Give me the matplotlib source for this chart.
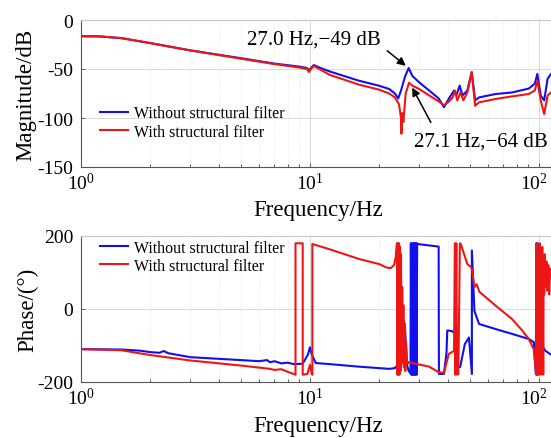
import matplotlib
matplotlib.use("Agg")
import matplotlib.pyplot as plt
from matplotlib.transforms import ScaledTranslation

plt.rcParams['font.family'] = ['Liberation Serif', 'DejaVu Serif']
plt.rcParams['mathtext.fontset'] = 'custom'
plt.rcParams['mathtext.rm'] = 'Liberation Serif'
plt.rcParams['mathtext.it'] = 'Liberation Serif:italic'

# --- Amplitude (dB) ---
mag_f_blue = [1.0, 1.2, 1.5, 2.0, 3.0, 5.0, 7.0, 9.0, 9.7, 9.9, 10.1, 10.4, 11.0, 12.2,
              16.4, 20.0, 22.2, 23.5, 24.3, 25.0, 26.0, 27.0, 28.0, 30.0, 33.2, 36.5,
              38.5, 40.5, 42.6, 43.6, 45.1, 46.4, 48.7, 50.9, 52.7, 54.8, 64.8, 76.2,
              90.3, 96.0, 98.5, 101.9, 105.5, 109.2, 113.0]
mag_blue = [-16.6, -16.8, -18.5, -23.5, -31.0, -39.0, -44.5, -47.6, -49.0, -51.5, -49.0,
            -46.0, -48.5, -52.5, -62.0, -67.0, -70.4, -75.0, -80.0, -72.0, -58.0, -49.0,
            -57.0, -63.6, -72.0, -80.0, -89.0, -80.0, -72.0, -77.0, -67.0, -77.0, -72.0,
            -53.4, -82.0, -79.0, -75.5, -74.0, -70.0, -65.0, -55.0, -77.0, -82.0, -60.0,
            -55.0]

mag_f_red = [1.0, 1.2, 1.5, 2.0, 3.0, 5.0, 7.0, 9.0, 9.7, 9.9, 10.1, 10.4, 11.0, 12.2,
             16.4, 20.0, 22.2, 23.5, 24.5, 25.0, 25.1, 25.3, 25.6, 26.2, 27.1, 28.0,
             30.0, 33.2, 36.5, 38.5, 40.5, 42.0, 43.0, 44.0, 45.5, 46.8, 48.7, 50.9,
             52.7, 54.8, 64.8, 76.2, 90.3, 96.0, 98.5, 101.9, 105.5, 109.2, 113.0]
mag_red = [-16.3, -16.6, -18.5, -23.5, -31.0, -39.5, -45.0, -48.5, -50.0, -53.0, -50.0,
           -47.0, -50.0, -56.0, -66.0, -71.0, -75.0, -79.0, -86.0, -100.0, -116.0, -95.0,
           -104.0, -75.0, -64.0, -67.0, -70.4, -77.0, -83.0, -87.0, -83.0, -79.0, -72.0,
           -82.0, -74.0, -82.0, -74.0, -53.0, -87.5, -84.0, -80.6, -78.0, -75.5, -72.0,
           -62.0, -82.0, -96.0, -77.0, -74.0]

# --- Phase (deg) ---
ph_f_blue = [1.0, 1.5, 1.8, 2.0, 2.2, 2.3, 2.4, 3.0, 5.0, 6.0, 6.5, 6.7, 7.0, 7.5, 8.0,
             8.5, 9.3, 9.8, 10.0, 10.2, 10.6, 12.2, 16.4, 22.2, 23.5, 24.3, 25.0, 25.6,
             26.0, 26.5, 27.0, 27.5,
             27.6, 27.75, 27.9, 28.05, 28.2, 28.35, 28.5, 28.65, 28.8, 28.95, 29.1, 29.25,
             29.4, 29.5, 36.5, 36.6, 38.5, 39.5, 39.8, 41.5, 43.4, 44.2, 45.3, 47.5, 49.5,
             51.0, 51.0, 52.3, 54.8, 64.8, 76.2, 90.3, 95.0, 97.0, 97.5, 98.0, 99.0,
             99.5, 101.0, 104.0, 107.0, 113.0]
ph_blue = [-110, -111, -114, -118, -120, -115, -121, -132, -140, -143, -140, -146, -143,
           -149, -147, -151, -150, -125, -105, -125, -148, -151, -158, -164, -162, -150,
           -100, -33, -45, -150, -170, -176,
           180, -180, 180, -180, 180, -180, 180, -180, 180, -180, 180, -180,
           180, 178, 171, -178, -178, -120, -59, -60, -68, -159, -159, -96, -78,
           -178, 160, -5, -41, -55, -68, -82, -91, -178, 180, -180, 180,
           -180, -110, -104, -115, -125]

ph_f_red = [1.0, 1.5, 2.0, 3.0, 5.0, 6.7, 7.0, 7.5, 8.0, 8.65, 8.65, 9.3, 9.3, 9.75,
            10.0, 10.2, 10.25, 10.25, 12.0, 16.4, 20.1, 21.5, 22.5, 23.3, 23.7, 24.0,
            24.1, 24.2, 24.35, 24.5, 24.6, 24.75, 24.9, 25.0, 25.15, 25.3, 25.45, 25.6,
            25.75, 25.9, 26.1, 26.3, 26.6, 27.0, 30.0, 33.2, 36.5, 38.5, 40.4, 42.6,
            43.0, 43.1, 43.6, 43.9, 44.5, 45.2, 45.6, 48.7, 50.5, 51.0, 52.3, 53.5, 55.0,
            64.8, 76.2, 84.6, 90.3, 95.0, 97.5,
            97.7, 98.0, 98.3, 99.0, 99.5, 100.0, 100.5, 101.0, 101.5, 102.0, 102.5, 103.0,
            103.5, 104.0, 104.5, 105.0, 105.5, 106.0, 107.0, 108.0, 109.0, 110.0, 111.0,
            112.0, 113.0]
ph_red = [-110, -113, -126, -141, -155, -164, -167, -165, -172, -180, 180, 180, -180, -178,
          -153, -178, -180, 178, 165, 137, 123, 114, 112, 120, 142, 180,
          -180, 180, -180, 180, -180, 170, -170, 150, -150, 60, -120, 10,
          -160, -40, -170, -90, -150, -146, -152, -158, -173, -175, -123, -115,
          180, -180, 180, -180, -178, 180, 178, 123, 115, 110, 60, 68, 47,
          9, -27, -59, -82, -110, -180,
          180, -180, 180, 60, -180, 130, 40, 180, 60, -180, 120, 30,
          170, 60, -180, 130, 40, 150, 60, 130, 50, 120, 40, 110, 90]

labels = ['Without structural filter', 'With structural filter']
mag_yticks = [0, -50, -100, -150]
mag_yticklabels = ['0', '-50', '-100', '-150']
ph_yticks = [200, 0, -200]
ph_yticklabels = ['200', '0', '-200']
xticks = [1, 10, 100]
xticklabels = ['$10^0$', '$10^1$', '$10^2$']

BLUE = '#1010ee'
RED = '#ee1515'

fig = plt.figure(figsize=(5.51, 4.39), dpi=100)
ax1 = fig.add_axes([81 / 551, 1 - 168 / 439, 470 / 551, 147 / 439])
ax2 = fig.add_axes([81 / 551, 1 - 383 / 439, 470 / 551, 146 / 439])

ax1.plot(mag_f_blue, mag_blue, color=BLUE, lw=1.5, label=labels[0])
ax1.plot(mag_f_red, mag_red, color=RED, lw=1.5, label=labels[1])
ax2.plot(ph_f_blue, ph_blue, color=BLUE, lw=1.5, label=labels[0])
ax2.plot(ph_f_red, ph_red, color=RED, lw=1.5, label=labels[1])

for ax, yt, ytl, ylim in [(ax1, mag_yticks, mag_yticklabels, (-150, 0)),
                          (ax2, ph_yticks, ph_yticklabels, (-200, 200))]:
    ax.set_xscale('log')
    ax.set_xlim(1, 113)
    ax.set_ylim(*ylim)
    ax.set_yticks(yt, ytl)
    ax.set_xticks(xticks, xticklabels)
    ax.grid(True, which='major', color='#d8d8d8', lw=0.7)
    ax.grid(True, which='minor', axis='x', color='#e2e2e2', lw=0.6, ls=':')
    ax.tick_params(which='both', direction='in', labelsize=14, length=3, width=0.6,
                   colors='#444444', labelcolor='black')
    ax.tick_params(axis='y', pad=5.5)
    ax.tick_params(which='minor', length=2)
    for s in ['left', 'bottom']:
        ax.spines[s].set_color('#555555')
        ax.spines[s].set_linewidth(0.8)
    for s in ['top', 'right']:
        ax.spines[s].set_color('#c8c8c8')
        ax.spines[s].set_linewidth(0.8)
    ax.set_axisbelow(True)
    # the 10^2 label sits a little left of its tick, as in the original
    last = ax.get_xticklabels()[-1]
    last.set_transform(last.get_transform() + ScaledTranslation(-5 / 100, 0, fig.dpi_scale_trans))

ax1.set_ylabel('Magnitude/dB', fontsize=16.5)
ax1.yaxis.set_label_coords(-0.095, 0.5)
ax1.set_xlabel('Frequency/Hz', fontsize=16.5)
ax1.xaxis.set_label_coords(0.505, -0.22)
ax2.set_ylabel('Phase/(°)', fontsize=16.5)
ax2.yaxis.set_label_coords(-0.09, 0.5)
ax2.set_xlabel('Frequency/Hz', fontsize=16.5)
ax2.xaxis.set_label_coords(0.505, -0.225)

leg_kw = dict(loc='upper left', frameon=False, fontsize=11.4, handlelength=1.75,
              handletextpad=0.4, labelspacing=0.15, borderpad=0, borderaxespad=0)
ax1.legend(bbox_to_anchor=(0.04, 0.42), **leg_kw)
ax2.legend(bbox_to_anchor=(0.04, 0.975), **leg_kw)

arrow = dict(arrowstyle='-|>', color='black', lw=1.1, mutation_scale=12)
ax1.annotate('', xy=(26.8, -48.5), xytext=(21.3, -29.6), arrowprops=arrow)
ax1.text(5.3, -19.5, '27.0 Hz,\u221249 dB', fontsize=15, ha='left', va='center')
ax1.annotate('', xy=(27.6, -66.5), xytext=(34.2, -107), arrowprops=arrow)
ax1.text(28.5, -123.5, '27.1 Hz,\u221264 dB', fontsize=15, ha='left', va='center')

fig.savefig('out.png', dpi=100)
